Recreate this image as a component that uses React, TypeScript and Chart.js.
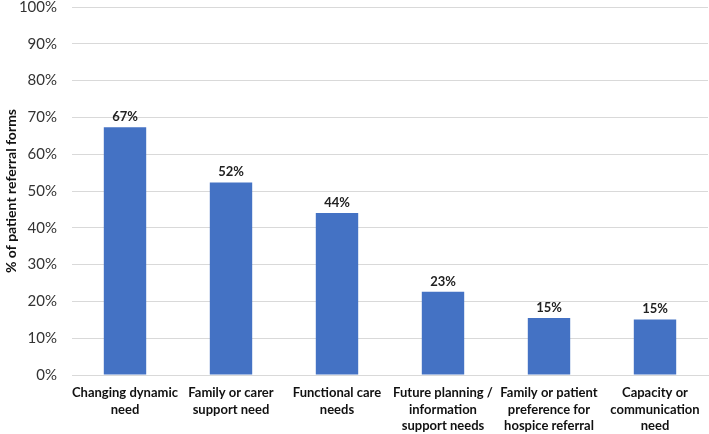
import React, { useEffect, useRef } from "react";
import { Chart, registerables } from "chart.js";

Chart.register(...registerables);

const categories: string[][] = [
  ["Changing dynamic", "need"],
  ["Family or carer", "support need"],
  ["Functional care", "needs"],
  ["Future planning /", "information", "support needs"],
  ["Family or patient", "preference for", "hospice referral"],
  ["Capacity or", "communication", "need"],
];
const values: number[] = [67.3, 52.3, 44.0, 22.6, 15.5, 15.1];
const valueLabels: string[] = ["67%", "52%", "44%", "23%", "15%", "15%"];

const FONT = "Lato, 'Open Sans', sans-serif";

const dataLabelPlugin = {
  id: "dataLabels",
  afterDatasetsDraw(chart: any) {
    const ctx = chart.ctx;
    const meta = chart.getDatasetMeta(0);
    ctx.save();
    ctx.font = `bold 13px ${FONT}`;
    ctx.fillStyle = "#222";
    ctx.textAlign = "center";
    ctx.textBaseline = "bottom";
    meta.data.forEach((bar: any, i: number) => {
      ctx.fillText(valueLabels[i], bar.x, bar.y - 4);
    });
    ctx.restore();
  },
};

export default function App() {
  const ref = useRef<HTMLCanvasElement>(null);
  useEffect(() => {
    document.body.style.margin = "0";
    const chart = new Chart(ref.current!, {
      type: "bar",
      data: {
        labels: categories,
        datasets: [
          {
            data: values,
            backgroundColor: "#4472c4",
            barPercentage: 0.4,
            categoryPercentage: 1.0,
          },
        ],
      },
      options: {
        animation: false,
        responsive: false,
        maintainAspectRatio: false,
        layout: { padding: { top: 7, right: 1, left: 3, bottom: 0 } },
        plugins: {
          legend: { display: false },
          tooltip: { enabled: false },
        },
        scales: {
          x: {
            grid: { display: false, drawTicks: false },
            border: { color: "#d9d9d9" },
            ticks: {
              color: "#111",
              font: { family: FONT, size: 13, weight: "bold", lineHeight: 1.3 },
              maxRotation: 0,
              autoSkip: false,
              padding: 9,
            },
            afterFit: (scale: any) => {
              scale.paddingLeft = 0;
              scale.paddingRight = 0;
              scale.height = 59;
            },
          },
          y: {
            min: 0,
            max: 100,
            ticks: {
              stepSize: 10,
              color: "#333",
              font: { family: FONT, size: 15 },
              callback: (v: any) => v + "%",
              padding: 15,
            },
            afterFit: (scale: any) => {
              scale.paddingTop = 0;
              scale.paddingBottom = 0;
              scale.width = 69;
            },
            grid: { color: "#d9d9d9", drawTicks: false },
            border: { display: false },
            title: {
              display: true,
              text: "% of patient referral forms",
              color: "#111",
              font: { family: FONT, size: 14, weight: "bold" },
              padding: 0,
            },
          },
        },
      },
      plugins: [dataLabelPlugin],
    });
    return () => chart.destroy();
  }, []);
  return <canvas ref={ref} width={709} height={434} style={{ display: "block" }} />;
}
